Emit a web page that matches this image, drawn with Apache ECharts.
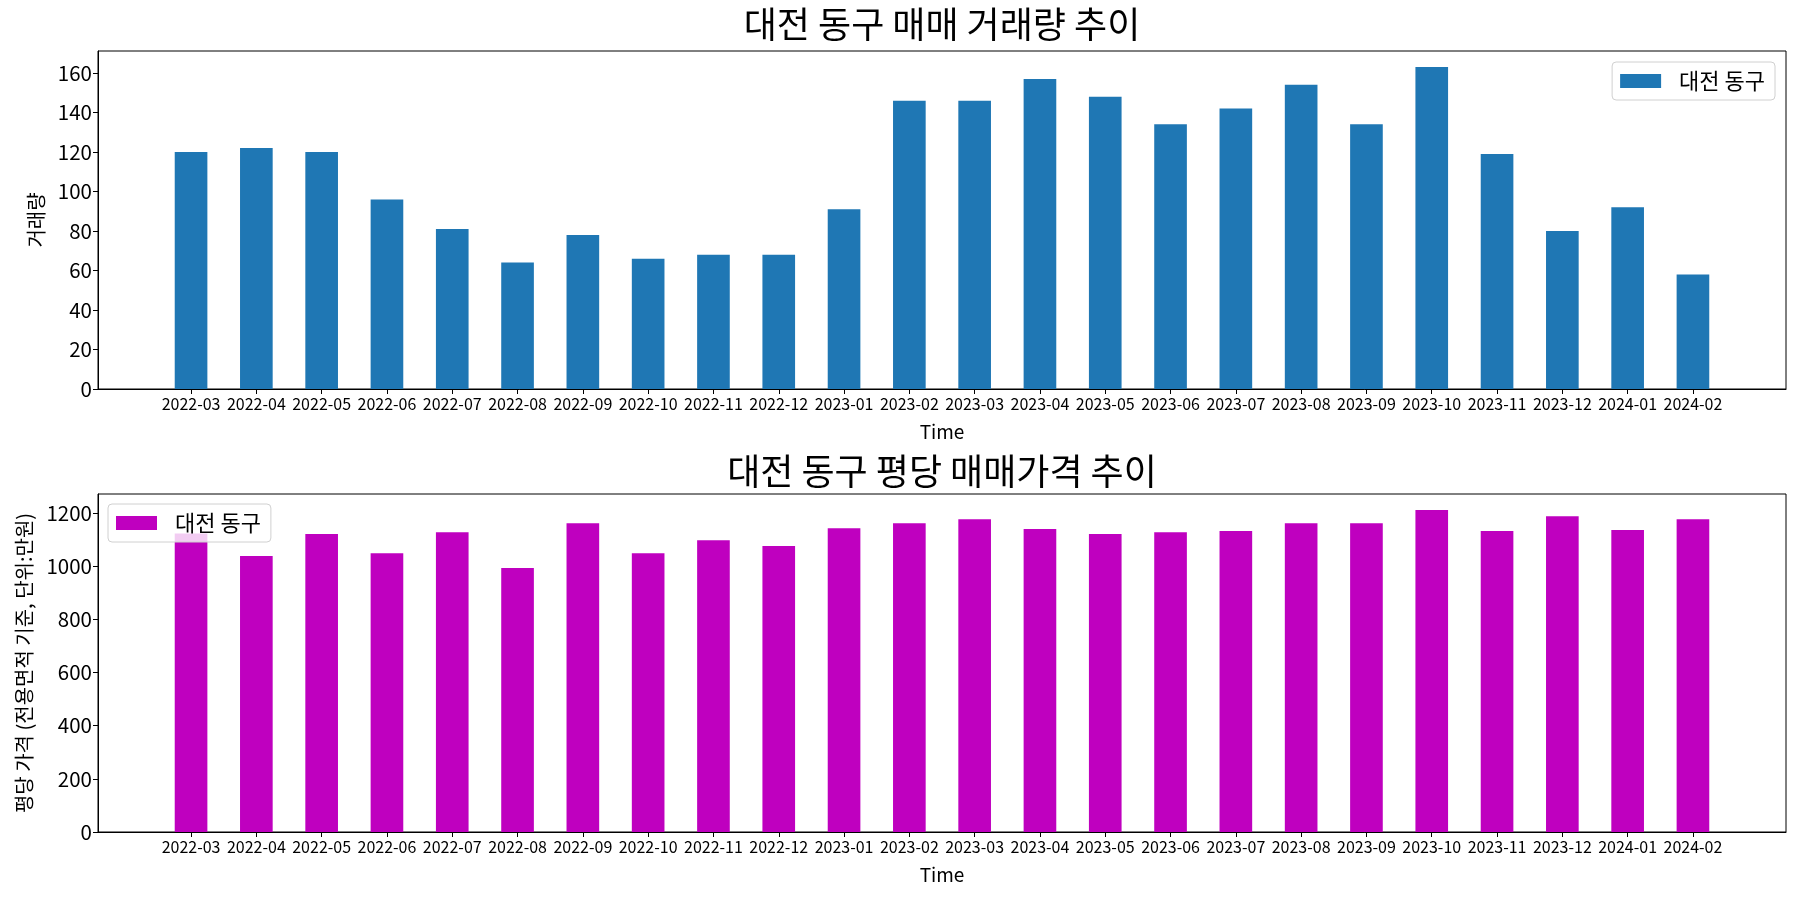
<!DOCTYPE html>
<html>
<head>
<meta charset="utf-8">
<script src="https://cdn.jsdelivr.net/npm/echarts@6/dist/echarts.min.js"></script>
<style>
html,body{margin:0;padding:0;background:#fff;}
#chart{width:1800px;height:900px;}
</style>
</head>
<body>
<div id="chart"></div>
<script>
const categories = ['2022-03','2022-04','2022-05','2022-06','2022-07','2022-08','2022-09','2022-10','2022-11','2022-12','2023-01','2023-02','2023-03','2023-04','2023-05','2023-06','2023-07','2023-08','2023-09','2023-10','2023-11','2023-12','2024-01','2024-02'];
const volume = [120,122,120,96,81,64,78,66,68,68,91,146,146,157,148,134,142,154,134,163,119,80,92,58];
const pricePerPyeong = [1122,1037,1120,1048,1127,992,1161,1048,1097,1075,1142,1161,1176,1139,1120,1127,1131,1161,1161,1210,1131,1187,1135,1176];
const volumeTicks = [0,20,40,60,80,100,120,140,160];
const priceTicks = [0,200,400,600,800,1000,1200];
const seriesName = '대전 동구';
const title1 = '대전 동구 매매 거래량 추이';
const title2 = '대전 동구 평당 매매가격 추이';
const yName1 = '거래량';
const yName2 = '평당 가격 (전용면적 기준, 단위:만원)';
const xName = 'Time';

const FONT = "'Noto Sans CJK KR', 'Noto Sans', sans-serif";
const idx = categories.map((_, i) => i);
const pad = (categories.length - 0.5) * 0.05 + 0.25;
const xMin = -pad, xMax = categories.length - 1 + pad;

const GRID_LEFT = 98, GRID_RIGHT = 14, CHART_W = 1800;
const plotCenterX = GRID_LEFT + (CHART_W - GRID_LEFT - GRID_RIGHT) / 2;

function xAxisCfg(gridIndex) {
  return {
    type: 'value', gridIndex, min: xMin, max: xMax,
    name: xName, nameLocation: 'middle', nameGap: 33,
    nameTextStyle: {fontSize: 19, color: '#000', fontFamily: FONT},
    splitLine: {show: false},
    axisLine: {show: true, onZero: false, lineStyle: {color: '#000', width: 1}},
    axisTick: {show: true, customValues: idx, length: 5, lineStyle: {color: '#000'}},
    axisLabel: {customValues: idx, formatter: v => categories[Math.round(v)] || '', fontSize: 16, color: '#000', fontFamily: FONT, margin: 7, hideOverlap: false, showMinLabel: true, showMaxLabel: true}
  };
}
function yAxisCfg(gridIndex, ticks, maxV, name, gap) {
  return {
    type: 'value', gridIndex, min: 0, max: maxV,
    name, nameLocation: 'middle', nameGap: gap, nameRotate: 90,
    nameTextStyle: {fontSize: 20, color: '#000', fontFamily: FONT},
    splitLine: {show: false},
    axisLine: {show: true, onZero: false, lineStyle: {color: '#000', width: 1}},
    axisTick: {show: true, customValues: ticks, length: 5, lineStyle: {color: '#000'}},
    axisLabel: {customValues: ticks, formatter: v => String(v), fontSize: 20.5, color: '#000', fontFamily: FONT, margin: 6}
  };
}
const max1 = Math.max(...volume) * 1.05;
const max2 = Math.max(...pricePerPyeong) * 1.05;

const legendCommon = {
  orient: 'horizontal', itemWidth: 41, itemHeight: 14, icon: 'rect',
  padding: [8, 10, 8, 8], borderColor: '#d0d0d0', borderWidth: 1, borderRadius: 4,
  backgroundColor: 'rgba(255,255,255,0.8)',
  textStyle: {fontSize: 22, color: '#000', fontFamily: FONT, padding: [0, 0, 0, 13]},
  selectedMode: false
};

const titleStyle = {fontSize: 36, fontWeight: 'normal', color: '#000', fontFamily: FONT};
const option = {
  backgroundColor: '#fff',
  animation: false,
  title: [
    {text: title1, left: plotCenterX, textAlign: 'center', top: 6, padding: 0, textStyle: titleStyle},
    {text: title2, left: plotCenterX, textAlign: 'center', top: 453, padding: 0, textStyle: titleStyle}
  ],
  legend: [
    Object.assign({}, legendCommon, {right: 25, top: 62, data: [{name: seriesName, itemStyle: {color: '#1f77b4'}}]}),
    Object.assign({}, legendCommon, {left: 108, top: 504, data: [{name: seriesName, itemStyle: {color: '#bf00bf'}}]})
  ],
  grid: [
    {left: GRID_LEFT, right: GRID_RIGHT, top: 51, height: 338, show: true, borderColor: '#000', borderWidth: 1, backgroundColor: 'transparent'},
    {left: GRID_LEFT, right: GRID_RIGHT, top: 494, height: 338, show: true, borderColor: '#000', borderWidth: 1, backgroundColor: 'transparent'}
  ],
  xAxis: [xAxisCfg(0), xAxisCfg(1)],
  yAxis: [yAxisCfg(0, volumeTicks, max1, yName1, 52), yAxisCfg(1, priceTicks, max2, yName2, 64)],
  series: [
    {name: seriesName, type: 'bar', xAxisIndex: 0, yAxisIndex: 0, barWidth: '50%',
     itemStyle: {color: '#1f77b4'}, data: volume.map((v, i) => [i, v])},
    {name: seriesName, type: 'bar', xAxisIndex: 1, yAxisIndex: 1, barWidth: '50%',
     itemStyle: {color: '#bf00bf'}, data: pricePerPyeong.map((v, i) => [i, v])}
  ]
};
const chart = echarts.init(document.getElementById('chart'), null, {renderer: 'canvas'});
chart.setOption(option);
</script>
</body>
</html>
